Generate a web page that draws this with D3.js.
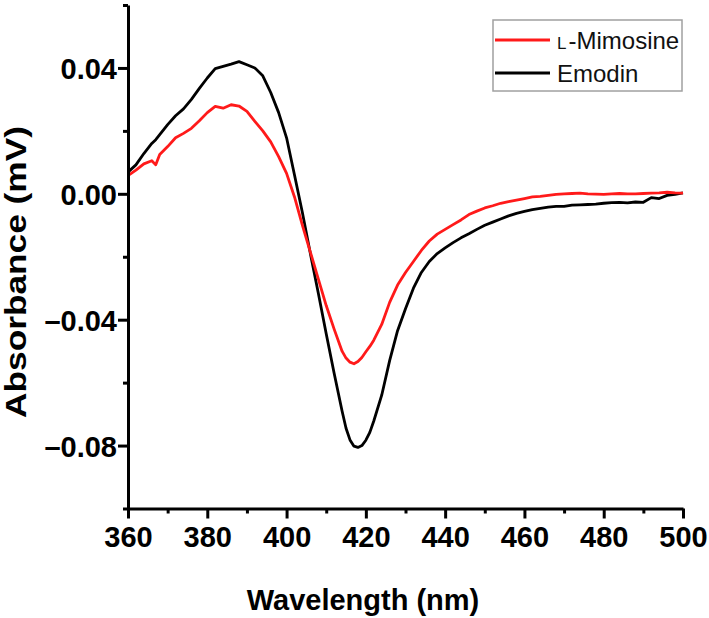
<!DOCTYPE html>
<html>
<head>
<meta charset="utf-8">
<script src="https://cdn.jsdelivr.net/npm/d3@7"></script>
<style>
  html, body { margin: 0; padding: 0; background: #fff; }
  svg { display: block; }
</style>
</head>
<body>
<svg id="chart" width="709" height="618"></svg>
<script>
// ---- Data ----
const wavelengths = [360,362,364,366,367,368,370,372,374,376,378,380,382,384,386,388,390,392,394,396,398,400,402,404,406,408,410,412,414,415,416,417,418,419,420,421,422,424,426,428,430,432,434,436,438,440,442,444,446,448,450,452,454,456,458,460,462,464,466,468,470,472,474,476,478,480,482,484,486,488,490,492,494,496,498,500];

const mimosine = [0.0058,0.0075,0.0095,0.0105,0.0092,0.0125,0.0150,0.0178,0.0192,0.0208,0.0232,0.0258,0.0278,0.0272,0.0283,0.0279,0.0262,0.0230,0.0200,0.0165,0.0118,0.0065,-0.0010,-0.0100,-0.0185,-0.0270,-0.0355,-0.0430,-0.0500,-0.0522,-0.0535,-0.0540,-0.0533,-0.0520,-0.0502,-0.0485,-0.0465,-0.0415,-0.0345,-0.0290,-0.0250,-0.0215,-0.0180,-0.0150,-0.0128,-0.0113,-0.0098,-0.0083,-0.0066,-0.0055,-0.0045,-0.0038,-0.0030,-0.0025,-0.0020,-0.0015,-0.0010,-0.0008,-0.0005,-0.0002,0.0000,0.0001,0.0002,0.0000,-0.0001,-0.0002,0.0000,0.0001,0.0000,0.0000,0.0001,0.0002,0.0003,0.0005,0.0003,0.0002];

const emodin = [0.0069,0.0092,0.0128,0.0160,0.0172,0.0188,0.0220,0.0248,0.0270,0.0300,0.0335,0.0368,0.0398,0.0405,0.0412,0.0420,0.0410,0.0400,0.0375,0.0322,0.0258,0.0178,0.0060,-0.0060,-0.0190,-0.0315,-0.0445,-0.0570,-0.0690,-0.0745,-0.0782,-0.0802,-0.0806,-0.0800,-0.0783,-0.0758,-0.0722,-0.0640,-0.0530,-0.0435,-0.0365,-0.0300,-0.0250,-0.0215,-0.0190,-0.0172,-0.0155,-0.0140,-0.0127,-0.0113,-0.0100,-0.0090,-0.0080,-0.0070,-0.0062,-0.0056,-0.0050,-0.0046,-0.0042,-0.0040,-0.0040,-0.0036,-0.0035,-0.0034,-0.0033,-0.0030,-0.0028,-0.0027,-0.0029,-0.0026,-0.0027,-0.0012,-0.0015,-0.0005,-0.0002,0.0003];

const xMajorTicks = [360,380,400,420,440,460,480,500];
const xMinorTicks = [370,390,410,430,450,470,490];
const yMajorTicks = [-0.08,-0.04,0.00,0.04];
const yMinorTicks = [-0.10,-0.06,-0.02,0.02,0.06];
const yTickLabels = ["\u20130.08","\u20130.04","0.00","0.04"];

const seriesNames = ["L-Mimosine","Emodin"];
const seriesColors = ["#ff1a1a","#000000"];

// ---- Layout ----
const svg = d3.select("#chart");
const x = d3.scaleLinear().domain([360,500]).range([128,683]);
const y = d3.scaleLinear().domain([-0.10,0.06]).range([508.5,5]);
const FONT = "'Liberation Sans', Arial, sans-serif";

// Curves
const line = d3.line().x((d,i)=>x(wavelengths[i])).y(d=>y(d)).curve(d3.curveLinear);
const seriesData = [mimosine, emodin];
[1,0].forEach(k=>{
  svg.append("path")
    .attr("d", line(seriesData[k]))
    .attr("fill","none")
    .attr("stroke", seriesColors[k])
    .attr("stroke-width", 2.8)
    .attr("stroke-linejoin","round");
});

// X axis
const xAxisMajor = d3.axisBottom(x).tickValues(xMajorTicks).tickSize(10).tickSizeOuter(0).tickPadding(8).tickFormat(d3.format("d"));
const gx = svg.append("g").attr("transform","translate(0,508.5)").call(xAxisMajor);
const xAxisMinor = d3.axisBottom(x).tickValues(xMinorTicks).tickSize(5).tickFormat("");
const gxm = svg.append("g").attr("transform","translate(0,508.5)").call(xAxisMinor);
gxm.select(".domain").remove();

// Y axis
const yAxisMajor = d3.axisLeft(y).tickValues(yMajorTicks).tickSize(10).tickSizeOuter(0).tickPadding(1)
  .tickFormat((d,i)=>yTickLabels[i]);
const gy = svg.append("g").attr("transform","translate(128,0)").call(yAxisMajor);
const yAxisMinor = d3.axisLeft(y).tickValues(yMinorTicks).tickSize(5).tickFormat("");
const gym = svg.append("g").attr("transform","translate(128,0)").call(yAxisMinor);
gym.select(".domain").remove();

[gx,gxm,gy,gym].forEach(g=>{
  g.selectAll(".domain").attr("stroke","#000").attr("stroke-width",3);
  g.selectAll(".tick line").attr("stroke","#000").attr("stroke-width",3);
  g.selectAll(".tick text")
    .attr("fill","#000")
    .style("font-family",FONT)
    .style("font-weight","bold")
    .style("font-size","29px");
});
gx.selectAll(".tick text").attr("dy","0.72em");
gy.selectAll(".tick text").attr("dy","0.36em");

// Axis titles
svg.append("text")
  .attr("x",363).attr("y",610)
  .attr("text-anchor","middle")
  .style("font-family",FONT).style("font-weight","bold").style("font-size","29px")
  .text("Wavelength (nm)");

svg.append("text")
  .attr("transform","translate(26,272) rotate(-90)")
  .attr("text-anchor","middle")
  .attr("textLength",292).attr("lengthAdjust","spacingAndGlyphs")
  .style("font-family",FONT).style("font-weight","bold").style("font-size","29px")
  .text("Absorbance (mV)");

// Legend
const lg = svg.append("g");
lg.append("rect").attr("x",493).attr("y",20).attr("width",189).attr("height",71)
  .attr("fill","#fff").attr("stroke","#a0a0a0").attr("stroke-width",1.5);
const legendY = [40,73];
seriesNames.forEach((name,i)=>{
  lg.append("line").attr("x1",495).attr("x2",550).attr("y1",legendY[i]).attr("y2",legendY[i])
    .attr("stroke",seriesColors[i]).attr("stroke-width",3);
  const t = lg.append("text").attr("x",557).attr("y",legendY[i]+9)
    .style("font-family",FONT).style("font-size","24px").attr("fill","#111");
  if (name.startsWith("L-")) {
    t.append("tspan").style("font-size","17px").text("L");
    t.append("tspan").attr("dx",2).text(name.slice(1));
  } else {
    t.text(name);
  }
});
</script>
</body>
</html>
